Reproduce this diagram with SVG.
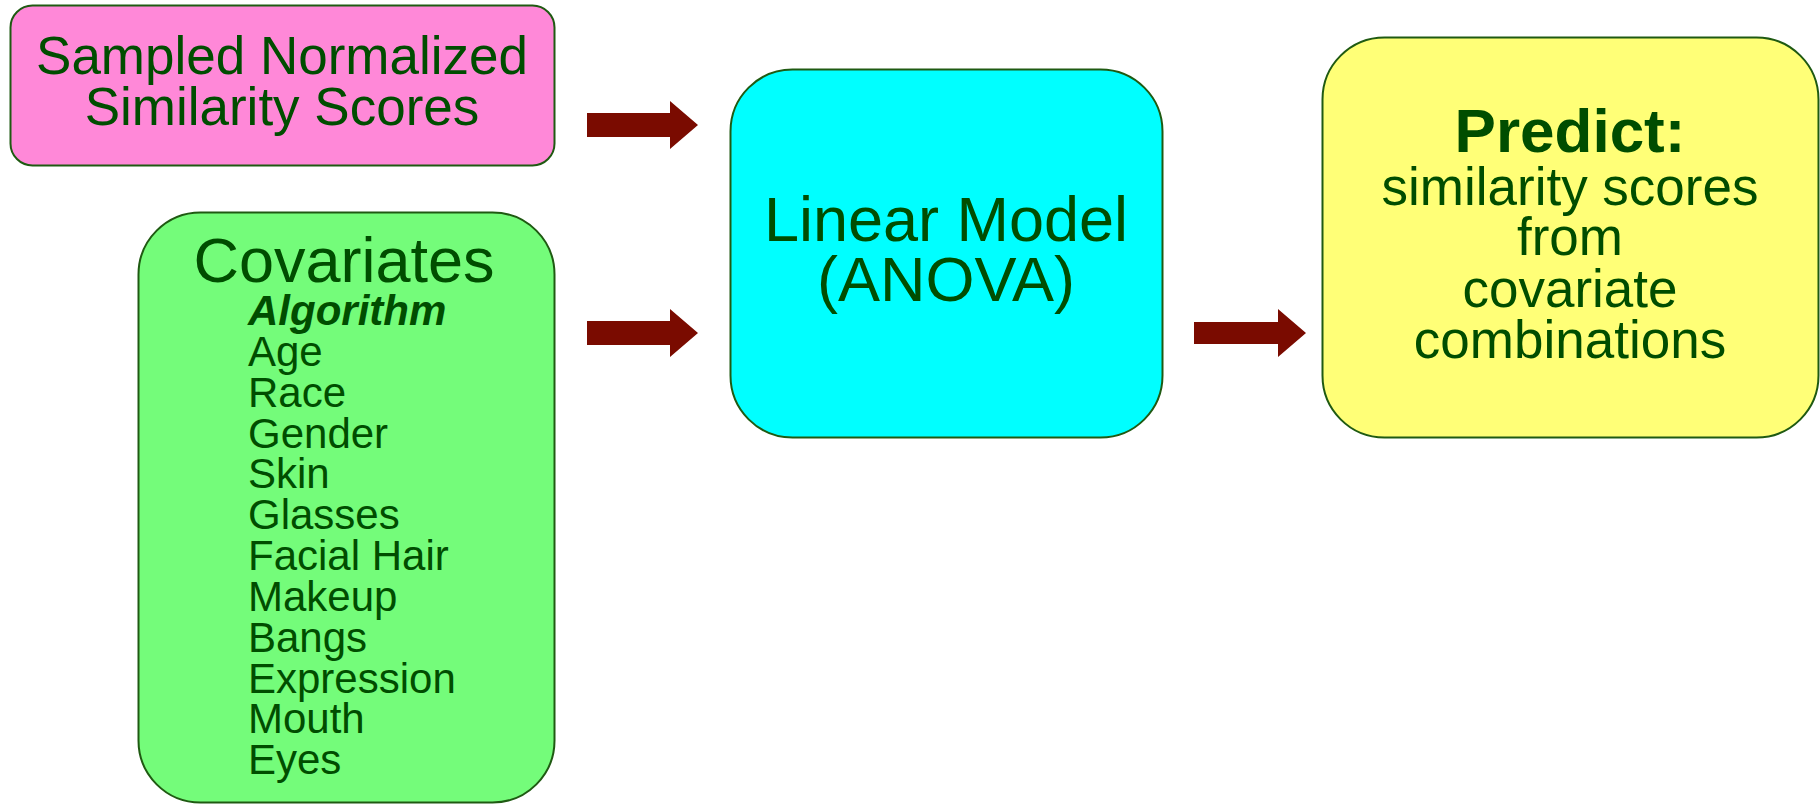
<svg xmlns="http://www.w3.org/2000/svg" width="1820" height="804" viewBox="0 0 1820 804">
<defs>
<style>
.box{stroke:#1f5a12;stroke-width:2}
.t{font-family:"Liberation Sans",Arial,sans-serif;fill:#004d00}
.c{text-anchor:middle}
.arrow{fill:#7a0b00}
</style>
</defs>
<rect width="1820" height="804" fill="#ffffff"/>
<g id="connectors">
<polygon class="arrow" points="587,113 670,113 670,101 698,125 670,149 670,137 587,137"/>
<polygon class="arrow" points="587,321 670,321 670,309 698,333 670,357 670,345 587,345"/>
<polygon class="arrow" points="1194,322 1278,322 1278,309 1306,333 1278,357 1278,344 1194,344"/>
</g>
<g id="scores">
<rect class="box" x="10.5" y="5.5" width="544" height="160" rx="22" fill="#ff88d8"/>
<text class="t c" font-size="53" x="282" y="74">Sampled Normalized</text>
<text class="t c" font-size="53" x="282" y="125">Similarity Scores</text>
</g>
<g id="covariates">
<rect class="box" x="138.5" y="212.5" width="416" height="590" rx="62" fill="#74fc7a"/>
<text class="t c" font-size="63" x="344" y="282">Covariates</text>
<text class="t" font-size="42" x="248" y="325" font-weight="bold" font-style="italic">Algorithm</text>
<text class="t" font-size="42" x="248" y="366">Age</text>
<text class="t" font-size="42" x="248" y="407">Race</text>
<text class="t" font-size="42" x="248" y="448">Gender</text>
<text class="t" font-size="42" x="248" y="488">Skin</text>
<text class="t" font-size="42" x="248" y="529">Glasses</text>
<text class="t" font-size="42" x="248" y="570">Facial Hair</text>
<text class="t" font-size="42" x="248" y="611">Makeup</text>
<text class="t" font-size="42" x="248" y="652">Bangs</text>
<text class="t" font-size="42" x="248" y="693">Expression</text>
<text class="t" font-size="42" x="248" y="733">Mouth</text>
<text class="t" font-size="42" x="248" y="774">Eyes</text>
</g>
<g id="model">
<rect class="box" x="730.5" y="69.5" width="432" height="368" rx="62" fill="#00ffff"/>
<text class="t c" font-size="63" x="946" y="241">Linear Model</text>
<text class="t c" font-size="63" x="946" y="301">(ANOVA)</text>
</g>
<g id="predict">
<rect class="box" x="1322.5" y="37.5" width="496" height="400" rx="62" fill="#ffff77"/>
<text class="t c" font-size="62" font-weight="bold" x="1570" y="152">Predict:</text>
<text class="t c" font-size="53" x="1570" y="205">similarity scores</text>
<text class="t c" font-size="53" x="1570" y="255">from</text>
<text class="t c" font-size="53" x="1570" y="307">covariate</text>
<text class="t c" font-size="53" x="1570" y="358">combinations</text>
</g>
</svg>
